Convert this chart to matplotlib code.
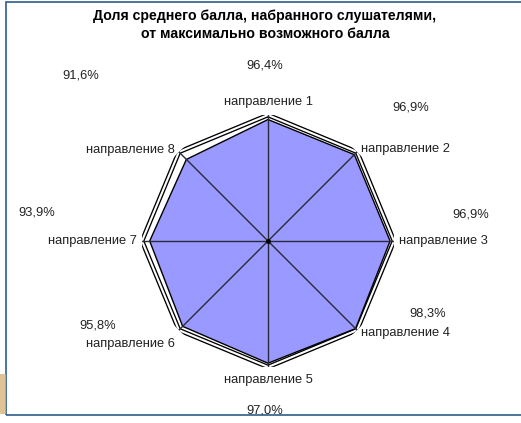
import matplotlib.pyplot as plt
import numpy as np
from matplotlib.patches import Rectangle

plt.rcParams['font.family'] = ['Liberation Sans', 'DejaVu Sans']

# Data
categories = ['направление 1', 'направление 2', 'направление 3', 'направление 4',
              'направление 5', 'направление 6', 'направление 7', 'направление 8']
values = [0.964, 0.969, 0.969, 0.983, 0.970, 0.958, 0.939, 0.916]
value_labels = ['96,4%', '96,9%', '96,9%', '98,3%', '97,0%', '95,8%', '93,9%', '91,6%']

# label offsets in pixels from each data point (data labels were dragged by hand)
label_offsets = [(-3, 54), (56, 47), (81, 27), (72, 15),
                 (-3, -47), (-85, 1), (-113, 29), (-106, 84)]
# category label offsets in pixels from the outer vertex
cat_offsets = [(0, 7), (4, 3), (5, 0), (4, -3),
               (0, -7), (-4, -14), (-5, 0), (-4, 2)]

fig = plt.figure(figsize=(5.21, 4.23), dpi=100)
fig.patch.set_facecolor('white')

# chart border
fig.patches.append(Rectangle((6 / 521, 1 - 415 / 423), 520 / 521, 413 / 423,
                             transform=fig.transFigure, fill=False,
                             edgecolor='#2E5C8A', lw=1.2))
fig.patches.append(Rectangle((0, 1 - 414 / 423), 6 / 521, 40 / 423,
                             transform=fig.transFigure, facecolor='#D9B47A',
                             edgecolor='none', alpha=0.8))

fig.text(265 / 521, 1 - 16 / 423, 'Доля среднего балла, набранного слушателями,',
         ha='center', va='center', fontsize=10.2, fontweight='bold')
fig.text(265 / 521, 1 - 34 / 423, 'от максимально возможного балла',
         ha='center', va='center', fontsize=10.2, fontweight='bold')

ax = fig.add_axes([142 / 521, 1 - 367 / 423, 252 / 521, 252 / 423], projection='polar')
ax.set_theta_zero_location('N')
ax.set_theta_direction(-1)
ax.set_ylim(0, 1)
ax.axis('off')

n = len(categories)
angles = np.arange(n) * 2 * np.pi / n
ang_c = np.append(angles, angles[0])
val_c = np.append(values, values[0])

# outer (100%) double line
ax.plot(ang_c, np.ones(n + 1), color='black', lw=3.4, zorder=2)
ax.plot(ang_c, np.ones(n + 1), color='white', lw=1.5, zorder=3)

ax.fill(ang_c, val_c, facecolor='#9999FF', edgecolor='black', lw=1.0, zorder=4)

# spokes
for a in angles:
    ax.plot([a, a], [0, 1], color='#2A2A3A', lw=1.0, zorder=5)
ax.plot([0], [0], 'o', color='black', ms=2.5, zorder=6)

# category labels
for a, name, off in zip(angles, categories, cat_offsets):
    s, c = np.sin(a), np.cos(a)
    ha = 'center' if abs(s) < 0.1 else ('left' if s > 0 else 'right')
    va = 'bottom' if c > 0.9 else ('top' if c < -0.9 else 'center')
    ax.annotate(name, (a, 1.0), xytext=off, textcoords='offset pixels',
                ha=ha, va=va, fontsize=9.3, color='#222222', zorder=7)

# value labels
for a, v, lab, off in zip(angles, values, value_labels, label_offsets):
    ax.annotate(lab, (a, v), xytext=off, textcoords='offset pixels',
                ha='center', va='center', fontsize=9.3, color='#222222', zorder=7)

plt.savefig('out.png', dpi=100)
